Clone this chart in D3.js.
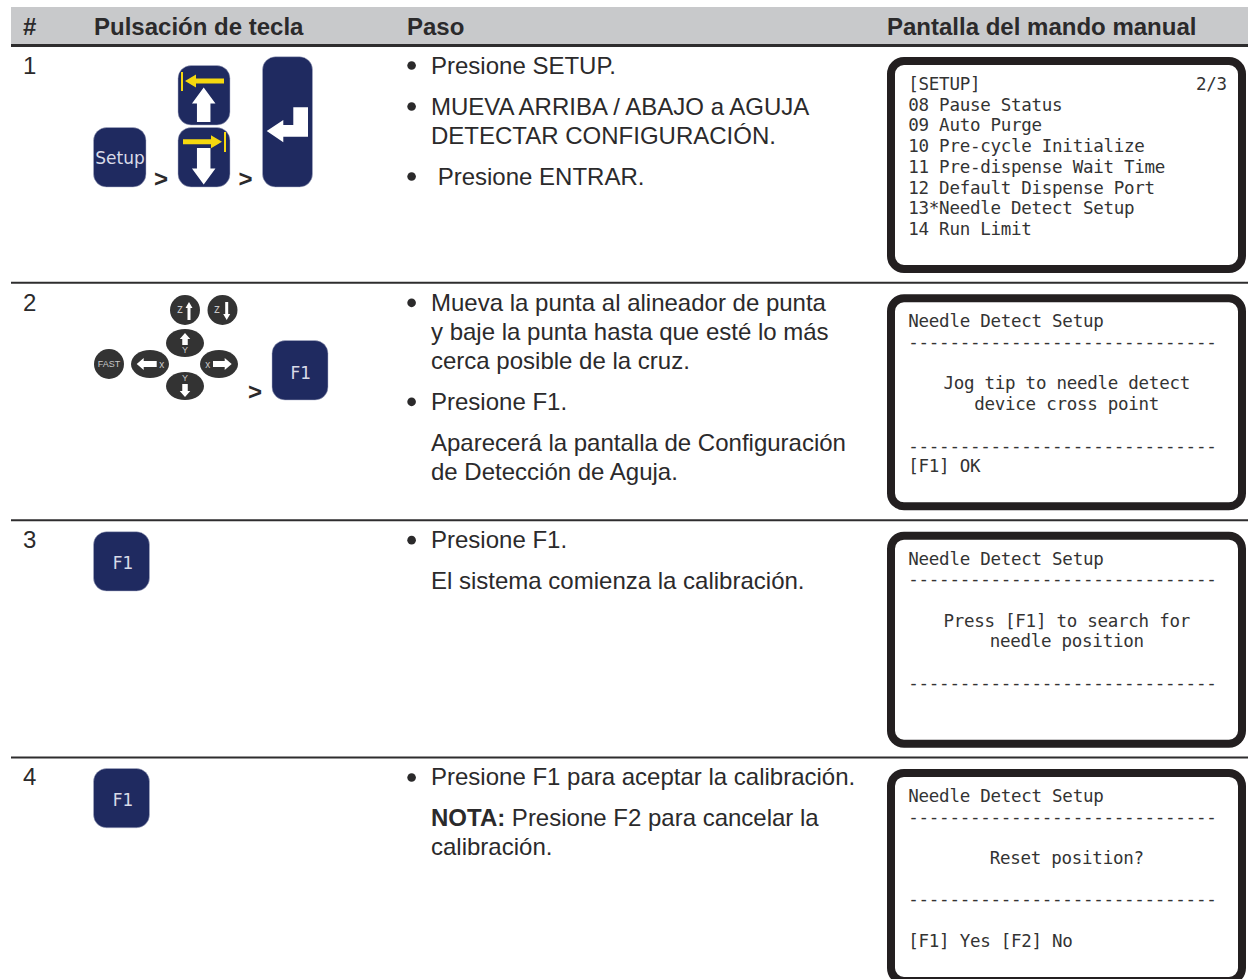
<!DOCTYPE html>
<html>
<head>
<meta charset="utf-8">
<script src="https://d3js.org/d3.v7.min.js"></script>
<style>
  html, body { margin: 0; padding: 0; background: #fff; overflow: hidden; }
  text { white-space: pre; }
</style>
</head>
<body>
<div id="chart"></div>
<script>
// table content
const columns = ['#', 'Pulsación de tecla', 'Paso', 'Pantalla del mando manual']
const rowNumbers = ['1', '2', '3', '4']

// "* " starts a bullet, "" is a paragraph break
const stepLines = [
  ['* Presione SETUP.', '', '* MUEVA ARRIBA / ABAJO a AGUJA', 'DETECTAR CONFIGURACIÓN.', '', '*  Presione ENTRAR.'],
  ['* Mueva la punta al alineador de punta', 'y baje la punta hasta que esté lo más', 'cerca posible de la cruz.', '', '* Presione F1.', '', 'Aparecerá la pantalla de Configuración', 'de Detección de Aguja.'],
  ['* Presione F1.', '', 'El sistema comienza la calibración.'],
  ['* Presione F1 para aceptar la calibración.', '', 'NOTA:| Presione F2 para cancelar la', 'calibración.']
]

const dashes = '------------------------------'
// a line with a leading space is centred in the display
const screenLines = [
  ['[SETUP]                     2/3', '08 Pause Status', '09 Auto Purge', '10 Pre-cycle Initialize', '11 Pre-dispense Wait Time', '12 Default Dispense Port', '13*Needle Detect Setup', '14 Run Limit'],
  ['Needle Detect Setup', dashes, '', ' Jog tip to needle detect', ' device cross point', '', dashes, '[F1] OK'],
  ['Needle Detect Setup', dashes, '', ' Press [F1] to search for', ' needle position', '', dashes, ''],
  ['Needle Detect Setup', dashes, '', ' Reset position?', '', dashes, '', '[F1] Yes [F2] No']
]

const width = 1248, height = 979
const ink = '#2b2a2b', navy = '#1f2a60', yellow = '#f5d80f', btn = '#333333'
const sans = '"Liberation Sans", Arial, sans-serif'
const mono = '"DejaVu Sans Mono", monospace'

let svg = d3.select('#chart').append('svg')
  .attr('width', width)
  .attr('height', height)
  .style('display', 'block')

let x = d3.scaleOrdinal().domain(columns).range([23, 94, 407, 887])
let y = d3.scaleLinear().domain([0, 4]).range([45.5, 994.8])

// header band
svg.append('rect').attr('x', 11).attr('y', 7).attr('width', width - 11).attr('height', 37).attr('fill', '#c8c9cb')
svg.selectAll('.head').data(columns).enter().append('text')
  .attr('class', 'head')
  .attr('x', d => x(d))
  .attr('y', 35)
  .attr('font-family', sans)
  .attr('font-weight', 'bold')
  .attr('font-size', 24)
  .attr('fill', ink)
  .text(d => d)

// row rules
svg.selectAll('.rule').data(d3.range(4)).enter().append('line')
  .attr('class', 'rule')
  .attr('x1', 11).attr('x2', width)
  .attr('y1', d => y(d)).attr('y2', d => y(d))
  .attr('stroke', '#2e2d2e')
  .attr('stroke-width', d => d == 0 ? 3 : 2)

// row numbers
svg.selectAll('.num').data(rowNumbers).enter().append('text')
  .attr('class', 'num')
  .attr('x', x('#'))
  .attr('y', (d, i) => y(i) + 28)
  .attr('font-family', sans)
  .attr('font-size', 24)
  .attr('fill', ink)
  .text(d => d)

// steps column
stepLines.forEach(function(lines, r) {
  let base = y(r) + 28
  lines.forEach(function(line) {
    if (line === '') { base += 12; return }
    let s = line
    if (s.startsWith('* ')) {
      svg.append('circle').attr('cx', 411.6).attr('cy', base - 8).attr('r', 4.3).attr('fill', ink)
      s = s.slice(2)
    }
    let t = svg.append('text')
      .attr('x', 431)
      .attr('y', base)
      .attr('font-family', sans)
      .attr('font-size', 24)
      .attr('fill', ink)
    s.split('|').forEach(function(part, i, all) {
      t.append('tspan')
        .attr('font-weight', all.length > 1 && i == 0 ? 'bold' : 'normal')
        .text(part)
    })
    base += 29
  })
})

// hand controller displays
screenLines.forEach(function(lines, r) {
  let top = y(r) + 11.5
  svg.append('rect')
    .attr('x', 891).attr('y', top + 4)
    .attr('width', 351).attr('height', 208)
    .attr('rx', 13)
    .attr('fill', '#fff')
    .attr('stroke', '#231f20')
    .attr('stroke-width', 8)
  lines.forEach(function(line, k) {
    let centred = line.startsWith(' ')
    svg.append('text')
      .attr('x', centred ? 1066.7 : 908.3)
      .attr('y', top + 33 + k * 20.7)
      .attr('text-anchor', centred ? 'middle' : 'start')
      .attr('font-family', mono)
      .attr('font-size', 17.5)
      .attr('letter-spacing', -0.265)
      .attr('fill', '#333')
      .text(line.trim() === line ? line : line.trim())
  })
})

// keypad icons
function key(x0, y0, w, h) {
  svg.append('rect')
    .attr('x', x0).attr('y', y0).attr('width', w).attr('height', h)
    .attr('rx', 13)
    .attr('fill', navy)
    .attr('stroke', '#aeb2c8')
    .attr('stroke-width', 0.5)
}

function keyLabel(label, cx, base, size) {
  svg.append('text')
    .attr('x', cx).attr('y', base)
    .attr('text-anchor', 'middle')
    .attr('font-family', '"DejaVu Sans", sans-serif')
    .attr('font-size', size)
    .attr('fill', '#d9dbe8')
    .text(label)
}

function poly(points, fill) {
  svg.append('path')
    .attr('d', d3.line()(points) + 'Z')
    .attr('fill', fill)
}

function chevron(x0, base) {
  svg.append('text')
    .attr('x', x0).attr('y', base)
    .attr('font-family', sans)
    .attr('font-weight', 'bold')
    .attr('font-size', 24)
    .attr('fill', ink)
    .text('>')
}

// simple block arrow along an axis, from (x1,y1) to the tip (x2,y2)
function arrow(x1, y1, x2, y2, stem, head, headLen, fill) {
  let len = Math.hypot(x2 - x1, y2 - y1)
  let ux = (x2 - x1) / len, uy = (y2 - y1) / len
  let px = -uy, py = ux
  let bx = x2 - ux * headLen, by = y2 - uy * headLen
  poly([
    [x1 + px * stem / 2, y1 + py * stem / 2],
    [bx + px * stem / 2, by + py * stem / 2],
    [bx + px * head / 2, by + py * head / 2],
    [x2, y2],
    [bx - px * head / 2, by - py * head / 2],
    [bx - px * stem / 2, by - py * stem / 2],
    [x1 - px * stem / 2, y1 - py * stem / 2]
  ], fill)
}

// row 1
key(93.5, 127.5, 52.5, 59.5)
keyLabel('Setup', 120, 164, 17)
chevron(154, 187)
key(178, 65.5, 52, 59.5)
arrow(224, 81, 185, 81, 5, 13, 11, yellow)
poly([[181, 72], [183, 72], [183, 91], [181, 91]], yellow)
arrow(203.7, 122, 203.7, 87.5, 13.5, 23.5, 16, '#fff')
key(178, 127.5, 52, 59.5)
arrow(183, 141.7, 222, 141.7, 5, 13, 11, yellow)
poly([[224, 132], [226, 132], [226, 152], [224, 152]], yellow)
arrow(203.7, 148, 203.7, 184.5, 13.5, 23.5, 16, '#fff')
chevron(238.5, 187)
key(262.5, 56.7, 50, 130.3)
poly([[308, 107.3], [308, 136.7], [283.3, 136.7], [283.3, 142.3], [266.7, 131], [283.3, 120], [283.3, 125], [293.3, 125], [293.3, 107.3]], '#fff')

// row 2
function oval(cx, cy, rx, ry) {
  svg.append('ellipse')
    .attr('cx', cx).attr('cy', cy).attr('rx', rx).attr('ry', ry)
    .attr('fill', btn)
}
function small(label, cx, cy, size) {
  svg.append('text')
    .attr('x', cx).attr('y', cy)
    .attr('dy', '.35em')
    .attr('text-anchor', 'middle')
    .attr('font-family', sans)
    .attr('font-size', size)
    .attr('fill', '#c9c9c9')
    .text(label)
}
oval(185, 310, 15, 15)
small('z', 180, 309, 12)
arrow(189, 320, 189, 302, 3, 7, 6, '#fff')
oval(222.5, 310, 15, 15)
small('z', 217, 309, 12)
arrow(226.7, 302, 226.7, 320, 3, 7, 6, '#fff')
oval(185, 343, 19, 14)
arrow(185, 345, 185, 333, 5.5, 10.5, 6, '#fff')
small('Y', 185, 350, 9)
oval(109, 364, 15, 15)
small('FAST', 109, 364, 9)
oval(150, 364, 19, 14)
arrow(156.7, 364, 136.7, 364, 6, 12, 7, '#fff')
small('x', 161.7, 364, 10)
oval(219, 364, 19, 14)
arrow(213, 364, 231.7, 364, 6, 12, 7, '#fff')
small('x', 207.7, 364, 10)
oval(185, 386, 19, 14)
arrow(185, 384, 185, 397, 5.5, 10.5, 6, '#fff')
small('Y', 185, 378, 9)
chevron(248, 400)
key(272, 340.5, 56, 59.5)
keyLabel('F1', 300.7, 379, 17)

// rows 3 and 4
key(93.5, 531.7, 56, 59.3)
keyLabel('F1', 123, 569, 17)
key(93.5, 768.5, 56, 59.3)
keyLabel('F1', 123, 806, 17)
</script>
</body>
</html>
